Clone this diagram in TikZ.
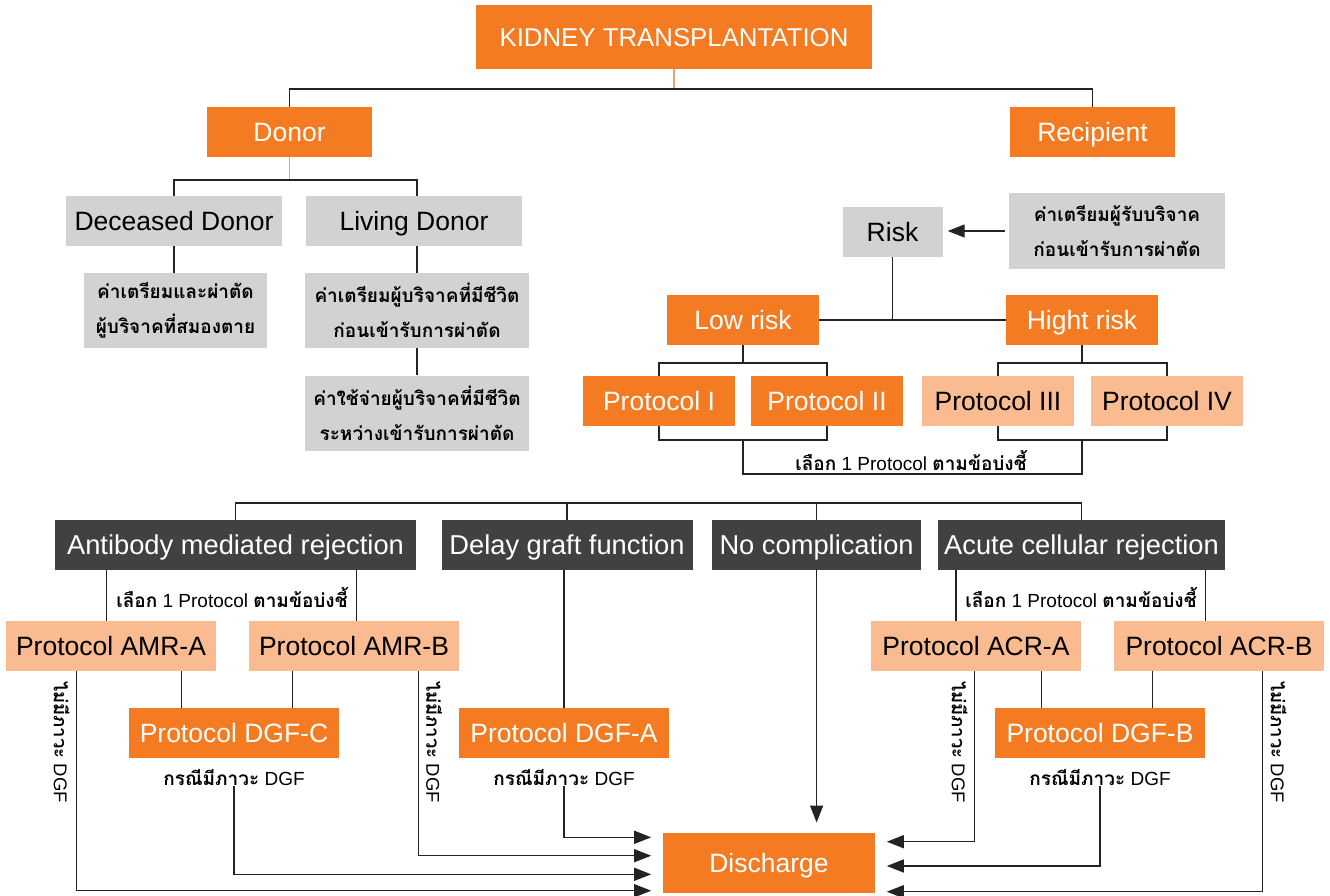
\documentclass[tikz,border=0pt]{standalone}
\usepackage{fontspec}
\setmainfont{Liberation Sans}
\newfontfamily\thaifont[Script=Thai]{Loma}
\usetikzlibrary{arrows.meta,calc}
\definecolor{ktorange}{RGB}{244,123,34}
\definecolor{ktpeach}{RGB}{249,187,143}
\definecolor{ktgray}{RGB}{209,210,212}
\definecolor{ktdark}{RGB}{65,65,65}
\definecolor{ktline}{RGB}{35,35,35}
\definecolor{ktlink}{RGB}{241,160,110}
\newcommand{\thai}[1]{{\thaifont\bfseries #1}}
\tikzset{
  kbox/.style={inner sep=0pt,minimum height=50,align=center,
    text height=19,text depth=0,font=\fontsize{26.5}{28}\selectfont},
  orangebox/.style={kbox,fill=ktorange,text=white},
  peachbox/.style={kbox,fill=ktpeach,text=black},
  graybox/.style={kbox,fill=ktgray,text=black},
  darkbox/.style={kbox,fill=ktdark,text=white,text height=19.5,
    font=\fontsize{27.3}{29}\selectfont},
  thaibox/.style={inner sep=0pt,minimum height=75,align=center,fill=ktgray,
    font=\thaifont\bfseries\fontsize{19}{35}\selectfont},
  note/.style={inner sep=0pt,font=\fontsize{19}{20}\selectfont},
  link/.style={draw=ktline,line width=1.3pt},
  olink/.style={draw=ktlink,line width=1.3pt},
  tolink/.style={link,-{Triangle[length=17pt,width=13pt]},shorten >=11.6pt},
}
\newcommand{\nodgf}[2]{%
  \node[note,font=\fontsize{18.5}{20}\selectfont,rotate=-90] (#1) at (#2,742)
    {\thai{ไม่มีภาวะ} DGF};
}

\begin{document}
\begin{tikzpicture}[x=1pt,y=-1pt]
  \useasboundingbox (0,0) rectangle (1330,896);
  % top level
  \node[orangebox,minimum width=396,minimum height=64,text height=18.5,
    font=\fontsize{25.8}{28}\selectfont] (kidney) at (674,37) {KIDNEY TRANSPLANTATION};
  \node[orangebox,minimum width=165] (donor) at (289.5,132) {Donor};
  \node[orangebox,minimum width=165] (recip) at (1092.5,132) {Recipient};
  \coordinate (topj) at (674,89);
  \draw[olink] (kidney.south) -- (topj);
  \draw[link] (donor.north) |- (topj) -| (recip.north);

  % donor side
  \node[graybox,minimum width=216] (deceased) at (174,221) {Deceased Donor};
  \node[graybox,minimum width=216] (living) at (414,221) {Living Donor};
  \node[thaibox,minimum width=183] (dthai) at (175.5,310.5)
    {ค่าเตรียมและผ่าตัด\\ผู้บริจาคที่สมองตาย};
  \node[thaibox,minimum width=224] (lthai1) at (417,310.5)
    {ค่าเตรียมผู้บริจาคที่มีชีวิต\\ก่อนเข้ารับการผ่าตัด};
  \node[thaibox,minimum width=224] (lthai2) at (417,413)
    {ค่าใช้จ่ายผู้บริจาคที่มีชีวิต\\ระหว่างเข้ารับการผ่าตัด};
  \coordinate (donj) at (289.5,180);
  \draw[olink] (donor.south) -- (donj);
  \draw[link] (deceased.north) |- (donj) -| (lthai1.north |- living.north);
  \draw[link] (deceased.south) -- (deceased.south |- dthai.north);
  \draw[link] (lthai1.north) -- (lthai1.north |- living.south);
  \draw[link] (lthai1.south) -- (lthai2.north);

  % recipient side
  \node[graybox,minimum width=100] (risk) at (892.5,232) {Risk};
  \node[thaibox,minimum width=216] (rthai) at (1117,231)
    {ค่าเตรียมผู้รับบริจาค\\ก่อนเข้ารับการผ่าตัด};
  \draw[link,-{Triangle[length=17pt,width=13pt]},shorten <=4pt,shorten >=5pt]
    (rthai.west) -- (risk.east |- rthai.west);
  \node[orangebox,minimum width=152] (low) at (743,320) {Low risk};
  \node[orangebox,minimum width=152] (high) at (1082,320) {Hight risk};
  \draw[link] (low.east) -- (high.west);
  \draw[link] (risk.south) -- (risk.south |- low.east);
  \node[orangebox,minimum width=152] (p1) at (659,401) {Protocol I};
  \node[orangebox,minimum width=152] (p2) at (827,401) {Protocol II};
  \node[peachbox,minimum width=152] (p3) at (998,401) {Protocol III};
  \node[peachbox,minimum width=152] (p4) at (1167,401) {Protocol IV};
  \coordinate (lowj) at (743,363);
  \coordinate (highj) at (1082,363);
  \coordinate (lowb) at (743,440);
  \coordinate (highb) at (1082,440);
  \draw[link] (low.south) -- (lowj);
  \draw[link] (high.south) -- (highj);
  \draw[link] (p1.north) |- (lowj) -| (p2.north);
  \draw[link] (p3.north) |- (highj) -| (p4.north);
  \draw[link] (p1.south) |- (lowb) -| (p2.south);
  \draw[link] (p3.south) |- (highb) -| (p4.south);
  \draw[link] (lowb) -- ++(0,34) -| (highb);
  \node[note] (choose1) at (911,461) {\thai{เลือก} 1 Protocol \thai{ตามข้อบ่งชี้}};

  % after transplant
  \node[darkbox,minimum width=361] (amr) at (235.5,545) {Antibody mediated rejection};
  \node[darkbox,minimum width=251] (dgf) at (567,545) {Delay graft function};
  \node[darkbox,minimum width=209] (noc) at (816.6,545) {No complication};
  \node[darkbox,minimum width=287] (acr) at (1081.5,545) {Acute cellular rejection};
  \coordinate (rowj) at (567,503);
  \draw[link] (amr.north) |- (rowj) -| (acr.north);
  \draw[link] (dgf.north) -- (rowj);
  \draw[link] (noc.north) -- (noc.north |- rowj);

  \node[peachbox,minimum width=210] (amra) at (111,646) {Protocol AMR-A};
  \node[peachbox,minimum width=210] (amrb) at (354,646) {Protocol AMR-B};
  \node[peachbox,minimum width=210] (acra) at (976,646) {Protocol ACR-A};
  \node[peachbox,minimum width=210] (acrb) at (1219,646) {Protocol ACR-B};
  \node[orangebox,minimum width=210] (dgfc) at (234,733) {Protocol DGF-C};
  \node[orangebox,minimum width=210] (dgfa) at (564,733) {Protocol DGF-A};
  \node[orangebox,minimum width=210] (dgfb) at (1100,733) {Protocol DGF-B};
  \node[orangebox,minimum width=212,minimum height=60] (disch) at (769,862.7) {Discharge};

  \node[note] (choose2) at (232,598) {\thai{เลือก} 1 Protocol \thai{ตามข้อบ่งชี้}};
  \node[note] (choose3) at (1081,598) {\thai{เลือก} 1 Protocol \thai{ตามข้อบ่งชี้}};
  \node[note] (casec) at (234,778) {\thai{กรณีมีภาวะ} DGF};
  \node[note] (casea) at (564,778) {\thai{กรณีมีภาวะ} DGF};
  \node[note] (caseb) at (1100,778) {\thai{กรณีมีภาวะ} DGF};
  \nodgf{nod1}{61.7}
  \nodgf{nod2}{434}
  \nodgf{nod3}{959.7}
  \nodgf{nod4}{1278.7}

  \draw[link] ([xshift=-4.3]amra.north) -- ([xshift=-4.3]amra.north |- amr.south);
  \draw[link] ([xshift=2.7]amrb.north) -- ([xshift=2.7]amrb.north |- amr.south);
  \draw[link] ([xshift=-20]acra.north) -- ([xshift=-20]acra.north |- acr.south);
  \draw[link] ([xshift=-13.3]acrb.north) -- ([xshift=-13.3]acrb.north |- acr.south);
  \draw[link] (dgfa.north) -- (dgfa.north |- dgf.south);
  \draw[link] ([xshift=-52.5]dgfc.north) -- ([xshift=-52.5]dgfc.north |- amra.south);
  \draw[link] ([xshift=58.3]dgfc.north) -- ([xshift=58.3]dgfc.north |- amrb.south);
  \draw[link] ([xshift=-58.3]dgfb.north) -- ([xshift=-58.3]dgfb.north |- acra.south);
  \draw[link] ([xshift=52.3]dgfb.north) -- ([xshift=52.3]dgfb.north |- acrb.south);

  % to discharge
  \draw[tolink,shorten >=10pt] (noc.south) -- (noc.south |- disch.north);
  \draw[tolink] (casea.south) |- ([yshift=25.4]disch.west);
  \draw[tolink] ([xshift=64.7]amrb.south) |- ([yshift=7]disch.west);
  \draw[tolink] (casec.south) |- ([yshift=-11.6]disch.west);
  \draw[tolink] ([xshift=-34.3]amra.south) |- ([yshift=-28]disch.west);
  \draw[tolink] ([xshift=-1.7]acra.south) |- ([yshift=21]disch.east);
  \draw[tolink] (caseb.south) |- ([yshift=-3.3]disch.east);
  \draw[tolink] ([xshift=43.3]acrb.south) |- ([yshift=-29]disch.east);
\end{tikzpicture}
\end{document}
